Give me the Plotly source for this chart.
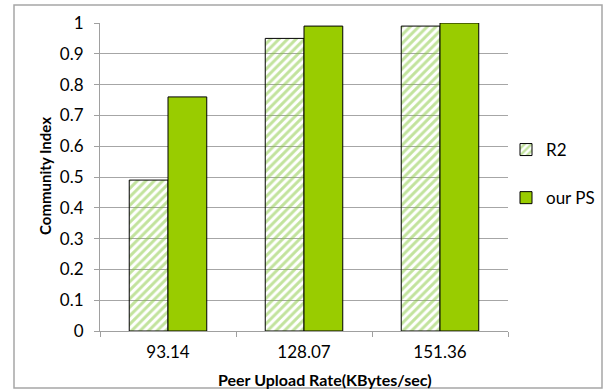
import plotly.graph_objects as go

categories = ["93.14", "128.07", "151.36"]
r2_values = [0.49, 0.95, 0.99]
ps_values = [0.76, 0.99, 1.0]
y_ticks = [0, 0.1, 0.2, 0.3, 0.4, 0.5, 0.6, 0.7, 0.8, 0.9, 1]
y_tick_labels = ["0", "0.1", "0.2", "0.3", "0.4", "0.5", "0.6", "0.7", "0.8", "0.9", "1"]
x_title = "Peer Upload Rate(KBytes/sec)"
y_title = "Community Index"

W, H = 608, 389
L, R, T, B = 100, 100, 23, 58
pw = W - L - R
ph = H - T - B


def px_x(x):
    return (x - L) / pw


def px_y(y):
    return (H - B - y) / ph


fig = go.Figure()
fig.add_trace(go.Bar(
    x=categories, y=r2_values, name="R2", legendgroup="a",
    marker=dict(color="rgba(255,255,255,0)",
                line=dict(color="black", width=1),
                pattern=dict(shape="/", fgcolor="#86C83C", bgcolor="rgba(255,255,255,0)",
                             size=6, solidity=0.5, fillmode="overlay")),
))
fig.add_trace(go.Bar(
    x=categories, y=ps_values, name="our PS", legendgroup="b",
    marker=dict(color="#99CC00", line=dict(color="black", width=1)),
))

font = "Lato, 'Open Sans', sans-serif"
fig.update_layout(
    width=W, height=H,
    margin=dict(l=L, r=R, t=T, b=B, pad=0, autoexpand=False),
    paper_bgcolor="white", plot_bgcolor="white",
    barmode="group", bargap=0.43, bargroupgap=0,
    font=dict(family=font, size=17, color="black"),
    showlegend=True,
    legend=dict(x=px_x(506), y=px_y(132), xanchor="left", yanchor="top",
                tracegroupgap=23, font=dict(size=17, family=font),
                bgcolor="rgba(0,0,0,0)"),
    xaxis=dict(
        type="category", showgrid=False, showline=True, linecolor="#A0A0A0", linewidth=1,
        ticks="outside", tickson="boundaries", ticklen=5, tickcolor="#A0A0A0",
        tickfont=dict(size=17), automargin=False, ticklabelstandoff=6,
    ),
    yaxis=dict(
        range=[0, 1], tickvals=y_ticks, ticktext=y_tick_labels,
        showgrid=True, gridcolor="#A6A6A6", gridwidth=1,
        showline=True, linecolor="#A0A0A0", linewidth=1,
        ticks="outside", ticklen=5, tickcolor="#A0A0A0",
        tickfont=dict(size=17), zeroline=False, automargin=False, ticklabelstandoff=7,
    ),
    annotations=[
        dict(text="<b>%s</b>" % x_title, xref="paper", yref="paper",
             x=px_x(325), y=px_y(379), xanchor="center", yanchor="middle",
             showarrow=False, font=dict(size=16, family=font)),
        dict(text="<b>%s</b>" % y_title, xref="paper", yref="paper",
             x=px_x(45), y=px_y(176), xanchor="center", yanchor="middle",
             textangle=-90, showarrow=False, font=dict(size=15, family=font)),
    ],
)

# outer chart border
fig.add_shape(type="rect", xref="paper", yref="paper",
              x0=px_x(14), x1=px_x(602), y0=px_y(388), y1=px_y(5),
              line=dict(color="#A6A6A6", width=1.5), fillcolor="rgba(0,0,0,0)", layer="below")

fig.write_html("out.html", post_script="document.body.style.margin='0';",
               config={"displayModeBar": False})
